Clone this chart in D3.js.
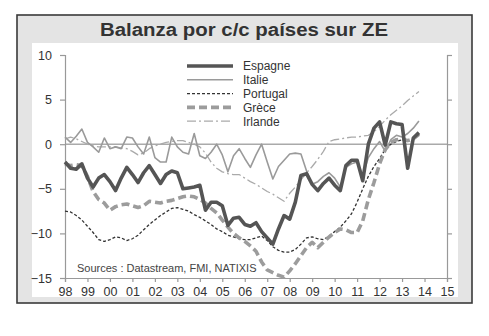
<!DOCTYPE html>
<html><head><meta charset="utf-8">
<script src="https://cdn.jsdelivr.net/npm/d3@7"></script>
<style>body{margin:0;background:#fff}svg{display:block}</style>
</head><body>
<svg id="c" width="489" height="336"></svg>
<script>
const title = "Balanza por c/c países sur ZE";
const source = "Sources : Datastream, FMI, NATIXIS";
const startYear = 1998; // quarterly series, first point 1998 Q1
const xTickYears = [1998,1999,2000,2001,2002,2003,2004,2005,2006,2007,2008,2009,2010,2011,2012,2013,2014,2015];
const xTickLabels = ["98","99","00","01","02","03","04","05","06","07","08","09","10","11","12","13","14","15"];
const yTicks = [10,5,0,-5,-10,-15];
const seriesNames = ["Espagne","Italie","Portugal","Grèce","Irlande"];

const espagne = [-2.0,-2.7,-2.8,-2.2,-3.8,-4.8,-3.8,-3.4,-4.2,-5.2,-3.8,-2.6,-3.4,-4.3,-3.2,-2.4,
  -3.4,-4.4,-3.4,-3.0,-3.2,-5.0,-4.9,-4.8,-4.6,-7.4,-6.5,-6.5,-6.9,-9.1,-8.3,-8.2,
  -9.0,-9.2,-8.8,-9.8,-10.5,-11.2,-9.5,-8.0,-8.4,-6.5,-3.5,-3.3,-4.5,-5.2,-4.4,-3.8,
  -4.6,-5.2,-2.4,-1.8,-1.8,-4.1,0.0,1.8,2.5,-0.1,2.5,2.3,2.2,-2.7,0.7,1.3];
const italie = [0.8,0.2,0.9,1.7,0.2,-0.3,-0.9,0.7,-0.5,-0.3,-0.5,0.8,0.7,-0.3,-1.1,0.8,
  -1.5,-2.0,-2.0,0.8,-0.3,-0.9,-1.1,1.2,-1.3,-1.6,-0.9,0.0,-1.2,-3.1,-1.3,-0.5,
  -1.6,-2.6,-1.2,0.0,-2.0,-3.9,-2.5,-1.8,-1.1,-1.0,-1.1,-3.0,-4.5,-4.2,-3.6,-3.2,
  -3.8,-4.8,-2.6,-2.2,-2.0,-3.5,-1.5,-0.5,0.3,-0.8,0.5,1.0,0.8,1.2,1.8,2.6];
const portugal = [-7.5,-7.6,-8.0,-8.5,-9.2,-9.9,-10.7,-10.9,-10.7,-10.4,-10.5,-10.8,-10.6,-10.2,-9.6,-9.0,
  -8.5,-8.0,-7.6,-7.2,-7.1,-7.3,-7.5,-7.9,-8.2,-8.6,-9.0,-9.5,-9.8,-10.2,-10.4,-10.6,
  -10.7,-10.7,-10.5,-10.3,-10.8,-11.5,-11.9,-12.1,-12.1,-11.8,-11.2,-10.5,-10.4,-10.6,-10.7,-10.3,
  -9.8,-9.3,-8.6,-7.8,-6.5,-5.0,-3.6,-2.5,-1.6,-0.6,0.0,0.3,0.5,0.4];
const grece = [-2.2,-2.4,-2.3,-2.4,-3.6,-5.3,-6.2,-6.6,-7.4,-7.0,-6.8,-6.7,-6.9,-7.1,-6.9,-6.4,
  -6.5,-6.6,-6.4,-6.3,-6.1,-5.9,-5.8,-5.9,-6.2,-6.6,-7.2,-7.7,-8.5,-9.3,-10.0,-10.5,
  -10.9,-11.4,-12.0,-13.2,-14.1,-14.4,-14.7,-14.9,-14.2,-13.4,-12.5,-11.6,-11.0,-11.6,-11.0,-10.4,
  -9.9,-9.5,-9.6,-9.9,-9.9,-8.6,-6.2,-4.3,-2.2,-0.6,0.2,0.5,0.6,0.4,0.6,1.1];
const irlande = [0.6,0.8,0.6,0.3,0.0,-0.2,-0.3,-0.3,-0.3,-0.3,-0.4,-0.5,-0.8,-1.2,-1.0,-0.5,
  -0.2,0.0,0.2,0.3,0.4,0.4,0.2,0.0,-0.3,-1.0,-2.0,-2.7,-3.1,-3.3,-3.4,-3.4,
  -3.8,-4.2,-4.5,-4.9,-5.3,-5.6,-6.0,-6.4,-5.5,-4.8,-4.0,-3.2,-2.5,-1.7,-0.8,0.3,
  0.5,0.6,0.7,0.8,0.8,0.9,1.0,1.4,2.0,2.7,3.3,3.8,4.3,4.9,5.4,5.9];

const svg = d3.select("#c");
// frame
svg.append("rect").attr("x",17).attr("y",15).attr("width",455).attr("height",288)
  .attr("fill","#e4e4e4").attr("stroke","#3a3a3a").attr("stroke-width",1.6);
svg.append("rect").attr("x",32).attr("y",43).attr("width",426).attr("height",254).attr("fill","#fff");
svg.append("text").attr("x",244).attr("y",36).attr("text-anchor","middle")
  .attr("font-family","Liberation Sans, Arial, sans-serif").attr("font-weight","bold")
  .attr("font-size",17.5).attr("fill","#333")
  .attr("textLength",288).attr("lengthAdjust","spacingAndGlyphs").text(title);

const x = d3.scaleLinear().domain([1998,2015]).range([65,447]);
const y = d3.scaleLinear().domain([-15,10]).range([278,55]);
const font = "Liberation Sans, Arial, sans-serif";

// zero line
svg.append("line").attr("x1",x(1998)).attr("x2",x(2015)).attr("y1",y(0)).attr("y2",y(0))
  .attr("stroke","#aaa").attr("stroke-width",1.5);

// axes
const gL = svg.append("g").attr("transform",`translate(${x(1998)},0)`)
  .call(d3.axisLeft(y).tickValues(yTicks).tickSize(5).tickPadding(8).tickFormat(d3.format("d")));
const gR = svg.append("g").attr("transform",`translate(${x(2015)},0)`)
  .call(d3.axisRight(y).tickValues(yTicks).tickSize(5).tickFormat(""));
const gB = svg.append("g").attr("transform",`translate(0,${y(-15)})`)
  .call(d3.axisBottom(x).tickValues(xTickYears).tickSize(4).tickPadding(5)
    .tickFormat((d,i)=>xTickLabels[i]));
[gL,gR,gB].forEach(g=>{
  g.select(".domain").attr("stroke","#999").attr("stroke-width",1.2);
  g.selectAll(".tick line").attr("stroke","#999").attr("stroke-width",1.2);
  g.selectAll("text").attr("font-family",font).attr("font-size",12.5).attr("fill","#333");
});

const line = d3.line().x((d,i)=>x(startYear+i/4)).y(d=>y(d));
const styles = {
  "Irlande":{data:irlande,color:"#aaa",w:1.3,dash:"9,3,2,3"},
  "Italie":{data:italie,color:"#9a9a9a",w:1.6,dash:null},
  "Portugal":{data:portugal,color:"#333",w:1.3,dash:"3,2"},
  "Grèce":{data:grece,color:"#9c9c9c",w:3.6,dash:"8,4"},
  "Espagne":{data:espagne,color:"#555",w:3.6,dash:null}
};
["Irlande","Italie","Portugal","Grèce","Espagne"].forEach(n=>{
  const s=styles[n];
  svg.append("path").datum(s.data).attr("d",line).attr("fill","none")
    .attr("stroke",s.color).attr("stroke-width",s.w).attr("stroke-linejoin","round")
    .attr("stroke-dasharray",s.dash);
});

// legend
const leg = svg.append("g");
seriesNames.forEach((n,i)=>{
  const s=styles[n], yy=66+i*13.8;
  leg.append("line").attr("x1",187).attr("x2",233).attr("y1",yy).attr("y2",yy)
    .attr("stroke",s.color).attr("stroke-width",s.w).attr("stroke-dasharray",s.dash);
  leg.append("text").attr("x",243).attr("y",yy+4.3).attr("font-family",font)
    .attr("font-size",12).attr("fill","#333").text(n);
});
svg.append("text").attr("x",77).attr("y",272).attr("font-family",font)
  .attr("font-size",11).attr("fill","#444").text(source);
</script>
</body></html>
